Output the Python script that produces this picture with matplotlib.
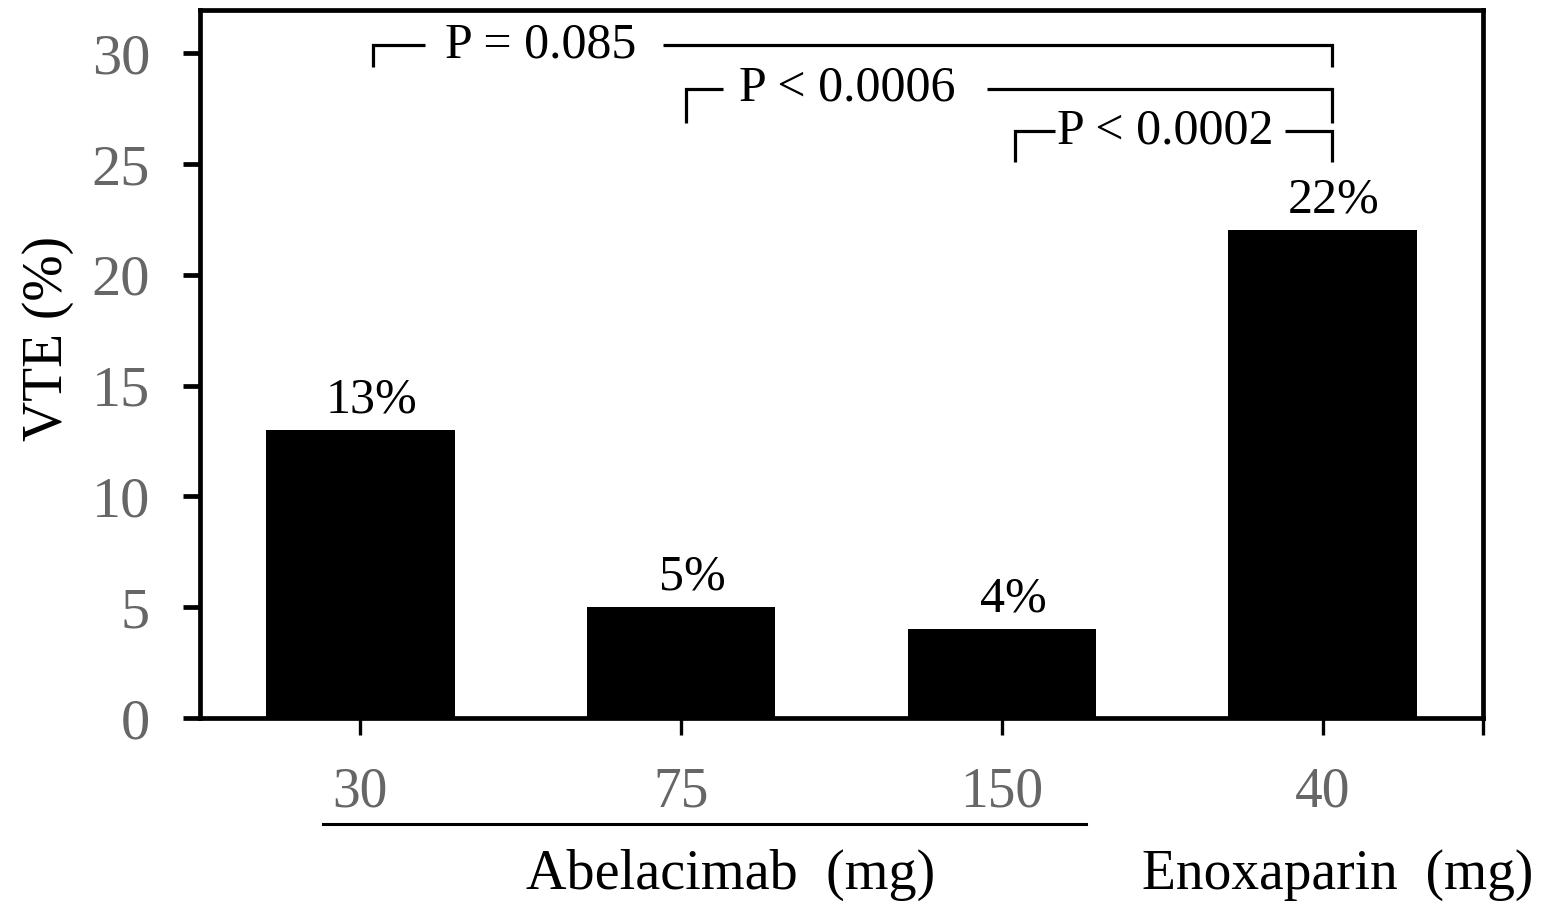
import matplotlib
matplotlib.use('Agg')
import matplotlib.pyplot as plt
import numpy as np

# data
doses = ['30', '75', '150', '40']
vte = [13, 5, 4, 22]
bar_labels = ['13%', '5%', '4%', '22%']
p_texts = ['P = 0.085', 'P < 0.0006', 'P < 0.0002']
p_from = [0, 1, 2]   # compared against enoxaparin (index 3)

plt.rcParams['font.family'] = ['Liberation Serif', 'DejaVu Serif']

fig = plt.figure(figsize=(15.42, 9.05), dpi=100)
ax = fig.add_axes([200 / 1542, 1 - 718 / 905, 1283 / 1542, 708 / 905])

x = np.arange(len(doses))
ax.bar(x, vte, width=0.587, color='black')
ax.set_xlim(-0.5, 3.5)
ax.set_ylim(0, 31.95)

for s in ax.spines.values():
    s.set_linewidth(3.4)

ax.set_yticks(np.arange(0, 31, 5))
ax.tick_params(axis='y', direction='out', length=12, width=3.4,
               labelsize=42, labelcolor='#666666', pad=24)
ax.set_xticks(list(x) + [3.5])
ax.set_xticklabels(doses + [''])
ax.tick_params(axis='x', direction='out', length=12, width=2.4,
               labelsize=40, labelcolor='#666666', pad=23)

# value labels
for xi, v, lab in zip(x, vte, bar_labels):
    ax.text(xi + 0.035, v + 0.8, lab, ha='center', va='baseline', fontsize=36)

# significance brackets (y in data units)
y_top = [30.36, 28.4, 26.48]
y_bot = [29.36, 26.84, 25.08]
x_left = [0.04, 1.014, 2.04]
x_right = 3.03
gaps = [(0.2, 0.942), (1.13, 1.953), (2.165, 2.883)]
text_x = [0.265, 1.18, 2.172]
lw = 2.3
for i, t in enumerate(p_texts):
    yt, yb, xl = y_top[i], y_bot[i], x_left[i]
    g0, g1 = gaps[i]
    ax.plot([xl, xl, g0], [yb, yt, yt], color='black', lw=lw,
            solid_joinstyle='miter', solid_capstyle='butt')
    ax.plot([g1, x_right, x_right], [yt, yt, yb], color='black', lw=lw,
            solid_joinstyle='miter', solid_capstyle='butt')
    ax.text(text_x[i], yt, t, ha='left', va='center', fontsize=36)

fig.text(48 / 1542, 1 - 338 / 905, 'VTE (%)', rotation=90,
         ha='center', va='center', fontsize=40)

# group underline and group labels
fig.add_artist(plt.Line2D([323 / 1542, 1086 / 1542], [1 - 824 / 905, 1 - 824 / 905],
                          color='black', lw=2.2))
fig.text(731 / 1542, 1 - 875 / 905, 'Abelacimab  (mg)', ha='center', va='center', fontsize=40.5)
fig.text(1338 / 1542, 1 - 875 / 905, 'Enoxaparin  (mg)', ha='center', va='center', fontsize=40)

fig.savefig('out.png', dpi=100)
